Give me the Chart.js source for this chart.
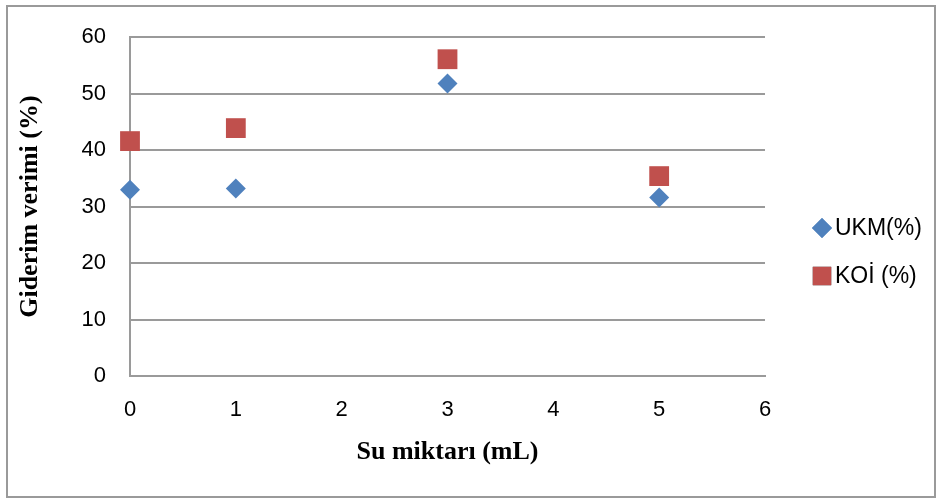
<!DOCTYPE html>
<html>
<head>
<meta charset="utf-8">
<script src="https://cdn.jsdelivr.net/npm/chart.js@4"></script>
<style>
  html, body { margin: 0; padding: 0; background: #fff; }
  #wrap { width: 939px; height: 500px; position: relative; }
</style>
</head>
<body>
<div id="wrap"><canvas id="chart" width="939" height="500"></canvas></div>
<script>
const suMiktari = [0, 1, 3, 5];
const ukmValues = [33.0, 33.2, 51.8, 31.6];
const koiValues = [41.6, 43.9, 56.1, 35.4];
const seriesLabels = ['UKM(%)', 'KOİ (%)'];
const xTitle = 'Su miktarı (mL)';
const yTitle = 'Giderim verimi (%)';

function toPoints(xs, ys) {
    return xs.map((x, i) => ({ x: x, y: ys[i] }));
}

// outer frame + legend on the right
const framePlugin = {
    id: 'frame',
    afterDraw(chart) {
        const ctx = chart.ctx;
        ctx.save();
        ctx.strokeStyle = '#9a9a9a';
        ctx.lineWidth = 2;
        ctx.strokeRect(7, 6, 928, 491);

        chart.data.datasets.forEach((ds, i) => {
            const y = 228 + i * 48;
            Chart.helpers.drawPoint(ctx, {
                pointStyle: ds.pointStyle,
                radius: ds.pointStyle === 'rect' ? 13 : 10,
                borderWidth: 0
            }, 822, y);
            ctx.fillStyle = ds.backgroundColor;
            ctx.fill();
            ctx.fillStyle = '#000';
            ctx.font = '23px "Liberation Sans", Arial, sans-serif';
            ctx.textBaseline = 'middle';
            ctx.textAlign = 'left';
            ctx.fillText(ds.label, 835, y + 1);
        });
        ctx.restore();
    }
};

new Chart(document.getElementById('chart').getContext('2d'), {
    type: 'scatter',
    data: {
        datasets: [
            {
                label: seriesLabels[0],
                data: toPoints(suMiktari, ukmValues),
                pointStyle: 'rectRot',
                pointRadius: 10,
                pointHoverRadius: 10,
                backgroundColor: '#4F81BD',
                borderColor: '#4F81BD',
                borderWidth: 0,
                clip: false
            },
            {
                label: seriesLabels[1],
                data: toPoints(suMiktari, koiValues),
                pointStyle: 'rect',
                pointRadius: 14,
                pointHoverRadius: 14,
                backgroundColor: '#C0504D',
                borderColor: '#C0504D',
                borderWidth: 0,
                clip: false
            }
        ]
    },
    options: {
        responsive: false,
        animation: false,
        layout: { padding: { left: 0, top: 34, right: 174, bottom: 0 } },
        plugins: {
            legend: { display: false },
            tooltip: { enabled: false }
        },
        scales: {
            x: {
                type: 'linear',
                min: 0,
                max: 6,
                afterFit: (scale) => { scale.height = 124; },
                ticks: {
                    stepSize: 1,
                    padding: 21,
                    color: '#000',
                    font: { family: '"Liberation Sans", Arial, sans-serif', size: 22 }
                },
                grid: { display: false, drawTicks: false },
                border: { display: true, color: '#9a9a9a', width: 2 },
                title: {
                    display: true,
                    text: xTitle,
                    color: '#000',
                    font: { family: '"Liberation Serif", "Times New Roman", serif', size: 26, weight: 'bold' },
                    padding: { top: 0, bottom: 32 }
                }
            },
            y: {
                min: 0,
                max: 60,
                afterFit: (scale) => { scale.width = 130; },
                ticks: {
                    stepSize: 10,
                    padding: 24,
                    color: '#000',
                    font: { family: '"Liberation Sans", Arial, sans-serif', size: 22 }
                },
                grid: { color: '#9a9a9a', lineWidth: 2, drawTicks: false },
                border: { display: true, color: '#9a9a9a', width: 2 },
                title: {
                    display: true,
                    text: yTitle,
                    color: '#000',
                    font: { family: '"Liberation Serif", "Times New Roman", serif', size: 26, weight: 'bold' },
                    padding: { top: 15, bottom: 0 }
                }
            }
        }
    },
    plugins: [framePlugin]
});
</script>
</body>
</html>
